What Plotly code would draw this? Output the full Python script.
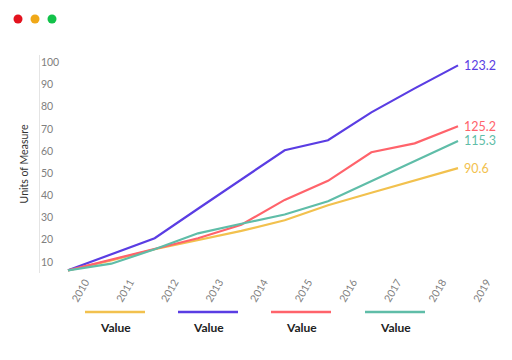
import plotly.graph_objects as go

years = ["2010", "2011", "2012", "2013", "2014", "2015", "2016", "2017", "2018", "2019"]
series_names = ["Value", "Value", "Value", "Value"]
orange_vals = [6.2, 10.7, 15.7, 19.8, 24.0, 28.8, 35.6, 41.2, 46.8, 52.3]
blue_vals = [6.2, 13.4, 20.7, 34.0, 47.4, 60.4, 64.9, 77.5, 88.3, 98.7]
red_vals = [6.2, 11.0, 15.7, 20.7, 26.8, 38.0, 46.6, 59.5, 63.5, 71.2]
teal_vals = [6.2, 9.2, 15.7, 22.9, 27.2, 31.4, 37.4, 46.4, 55.6, 64.6]
end_labels = ["90.6", "123.2", "125.2", "115.3"]
colors = ["#F2C14E", "#5A3DE3", "#FF636B", "#5FBDA8"]

W, H = 512, 360
ML, MR, MT, MB = 40, 22, 55, 87
PW, PH = W - ML - MR, H - MT - MB

def px(x):
    return (x - ML) / PW

def py(y):
    return (H - MB - y) / PH

fig = go.Figure()
xs = list(range(len(years)))
for vals, col, lab, name in zip([orange_vals, blue_vals, red_vals, teal_vals], colors, end_labels, series_names):
    fig.add_trace(go.Scatter(
        x=xs, y=vals, mode="lines", name=name,
        line=dict(color=col, width=2.2),
        showlegend=False, hoverinfo="skip",
    ))
    fig.add_annotation(x=xs[-1], y=vals[-1], text=lab, showarrow=False,
                       xanchor="left", yanchor="middle", xshift=4,
                       font=dict(color=col, size=12.5, family="Lato"))

# legend drawn below the plot: line sample with label under it
leg_centers = [115, 208, 301, 395]
for cx, col, name in zip(leg_centers, colors, series_names):
    fig.add_shape(type="line", xref="paper", yref="paper",
                  x0=px(cx - 30), x1=px(cx + 30), y0=py(312), y1=py(312),
                  line=dict(color=col, width=2.5))
    fig.add_annotation(xref="paper", yref="paper", x=px(cx), y=py(327),
                       text="<b>" + name + "</b>", showarrow=False,
                       font=dict(size=12, color="#222", family="Lato"),
                       xanchor="center", yanchor="middle")

# window dots
for cx, col in zip([18, 35, 52], ["#E3121E", "#F0A818", "#12C24A"]):
    fig.add_shape(type="circle", xref="paper", yref="paper",
                  xsizemode="pixel", ysizemode="pixel",
                  xanchor=px(cx), yanchor=py(19),
                  x0=-4.5, x1=4.5, y0=-4.5, y1=4.5,
                  line=dict(width=0), fillcolor=col)

step = 44.6 / 43.33
fig.update_layout(
    width=W, height=H,
    margin=dict(l=ML, r=MR, t=MT, b=MB, pad=0, autoexpand=False),
    paper_bgcolor="white", plot_bgcolor="white",
    font=dict(family="Lato", color="#888"),
    xaxis=dict(range=[-0.646, 9.738], showgrid=False, zeroline=False, showline=False,
               automargin=False,
               tickmode="array", tickvals=[0.4 + i * step for i in xs], ticktext=years,
               tickangle=-60, ticks="", tickfont=dict(size=10.5, color="#808080")),
    yaxis=dict(range=[5, 5 + PH / 2.216], showgrid=False, zeroline=False,
               automargin=False,
               showline=True, linecolor="#e4e4e4", linewidth=1,
               tickmode="array", tickvals=list(range(10, 101, 10)),
               ticklabelposition="inside", ticks="",
               tickfont=dict(size=10.5, color="#808080"),
               title=dict(text="Units of Measure", font=dict(size=10.5, color="#333"), standoff=10)),
)

fig.write_html("out.html", config={"displayModeBar": False},
               post_script="document.body.style.margin='0';document.body.style.padding='0';")
